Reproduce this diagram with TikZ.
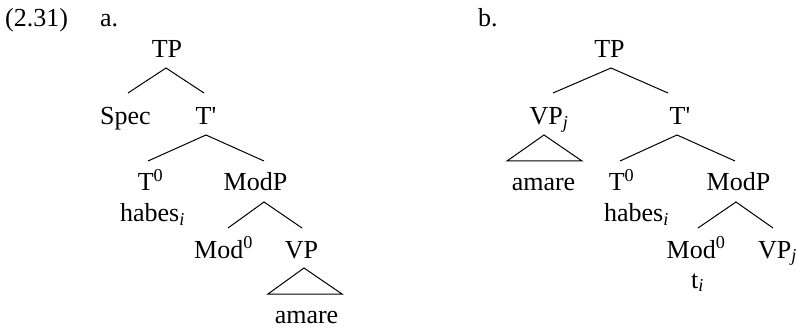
\documentclass[tikz,border=0pt]{standalone}
\usepackage{fontspec}
\setmainfont{Liberation Serif}
\usetikzlibrary{calc}
\tikzset{
  lbl/.style={anchor=base, inner sep=0pt, font=\fontsize{26}{30}\selectfont},
  lblw/.style={anchor=base west, inner sep=0pt, font=\fontsize{26}{30}\selectfont},
  branch/.style={line width=1pt, line join=miter},
}
\newcommand{\supz}{\textsuperscript{0}}
\newcommand{\subit}[1]{\textsubscript{\textit{#1}}}
\begin{document}
\begin{tikzpicture}[x=1pt,y=-1pt]
\useasboundingbox (0,0) rectangle (800,331);
% labels
\node[lblw] (ex) at (5,27) {(2.31)};
\node[lblw] (la) at (100,27) {a.};
\node[lblw] (lb) at (478,27) {b.};
% tree a
\node[lbl] (TPa) at (167,58) {TP};
\node[lbl] (Speca) at (125.5,125) {Spec};
\node[lbl] (Tbara) at (206,125) {T\textquotesingle};
\node[lbl] (T0a) at (150.5,191) {T\supz};
\node[lbl] (habesa) at (152.5,222) {habes\subit{i}};
\node[lbl] (ModPa) at (255.5,191) {ModP};
\node[lbl] (Mod0a) at (223.5,258) {Mod\supz};
\node[lbl] (VPa) at (301.5,258) {VP};
\node[lbl] (amarea) at (306.5,323) {amare};
\draw[branch] ($(Speca.base)+(2.5,-32)$) -- ($(TPa.base)+(-1,10)$) -- ($(Tbara.base)+(-2,-32)$);
\draw[branch] ($(T0a.base)+(-2.5,-30)$) -- ($(Tbara.base)+(0,10)$) -- ($(ModPa.base)+(8.5,-30)$);
\draw[branch] ($(Mod0a.base)+(4.5,-30)$) -- ($(ModPa.base)+(8.5,11)$) -- ($(VPa.base)+(0.5,-30)$);
\draw[branch] ($(VPa.base)+(2.5,10)$) -- ($(amarea.base)+(-38.5,-29)$) -- ($(amarea.base)+(35.5,-29)$) -- cycle;
% tree b
\node[lbl] (TPb) at (609.5,58) {TP};
\node[lbl] (VPjb) at (549,125) {VP\subit{j}};
\node[lbl] (Tbarb) at (680,125) {T\textquotesingle};
\node[lbl] (amareb) at (543.5,191) {amare};
\node[lbl] (T0b) at (621.5,191) {T\supz};
\node[lbl] (habesb) at (636.5,222) {habes\subit{i}};
\node[lbl] (ModPb) at (738.5,191) {ModP};
\node[lbl] (Mod0b) at (696,258) {Mod\supz};
\node[lbl] (tib) at (697.5,288) {t\subit{i}};
\node[lbl] (VPjb2) at (777.5,258) {VP\subit{j}};
\draw[branch] ($(VPjb.base)+(4,-32)$) -- ($(TPb.base)+(1.5,10)$) -- ($(Tbarb.base)+(-12,-32)$);
\draw[branch] ($(VPjb.base)+(-5,10)$) -- ($(amareb.base)+(-36.5,-30)$) -- ($(amareb.base)+(38.5,-30)$) -- cycle;
\draw[branch] ($(T0b.base)+(-1.5,-30)$) -- ($(Tbarb.base)+(-3,10)$) -- ($(ModPb.base)+(-3.5,-30)$);
\draw[branch] ($(Mod0b.base)+(2,-30)$) -- ($(ModPb.base)+(-2.5,11)$) -- ($(VPjb2.base)+(-4.5,-30)$);
\end{tikzpicture}
\end{document}
